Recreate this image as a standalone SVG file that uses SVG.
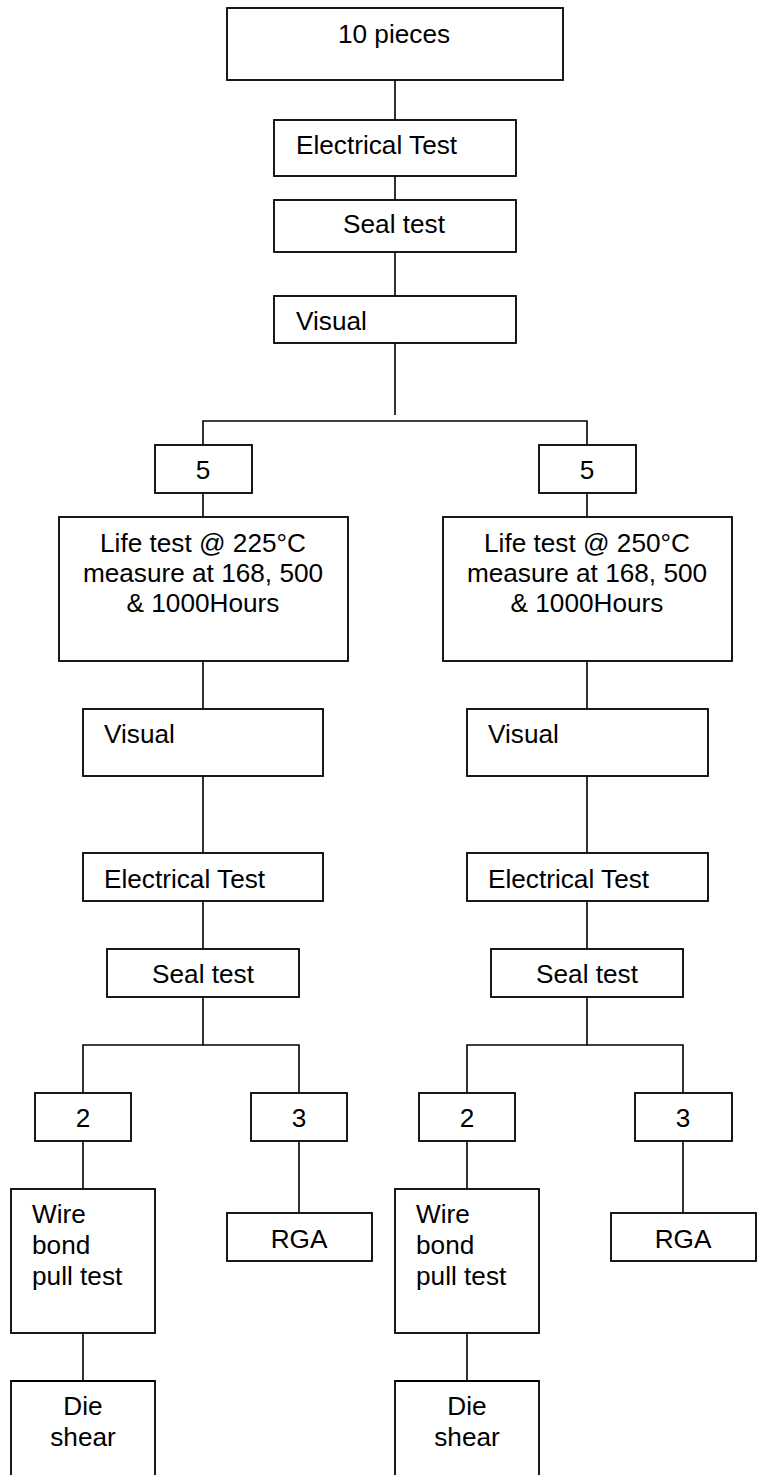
<svg xmlns="http://www.w3.org/2000/svg" width="762" height="1475" viewBox="0 0 762 1475">
<style>
.b{fill:#fff;stroke:#000;stroke-width:1.8}
.o{fill:none;stroke:#000;stroke-width:1.8}
.c{fill:none;stroke:#000;stroke-width:1.6}
text{font-family:"Liberation Sans",Arial,sans-serif;font-size:26.2px;fill:#000}
.m{text-anchor:middle}
</style>
<rect width="762" height="1475" fill="#fff"/>
<g id="connectors">
<path class="c" d="M395 80V120M395 176V200M395 252V296M395 343V415"/>
<path class="c" d="M203 445V421H587V445M203 493V517M587 493V517"/>
<path class="c" d="M203 661V709M203 776V853M203 901V949M203 997V1045M83 1093V1045H299V1093M83 1141V1189M83 1333V1381M299 1141V1213"/>
<path class="c" d="M587 661V709M587 776V853M587 901V949M587 997V1045M467 1093V1045H683V1093M467 1141V1189M467 1333V1381M683 1141V1213"/>
</g>
<g id="n-top"><rect class="b" x="227" y="8" width="336" height="72"/><text class="m" x="394" y="43">10 pieces</text></g>
<g id="n-elec0"><rect class="b" x="274" y="120" width="242" height="56"/><text x="296" y="154">Electrical Test</text></g>
<g id="n-seal0"><rect class="b" x="274" y="200" width="242" height="52"/><text class="m" x="394" y="233">Seal test</text></g>
<g id="n-vis0"><rect class="b" x="274" y="296" width="242" height="47"/><text x="296" y="330">Visual</text></g>

<g id="n-5L"><rect class="b" x="155" y="445" width="97" height="48"/><text class="m" x="203" y="479">5</text></g>
<g id="n-5R"><rect class="b" x="539" y="445" width="97" height="48"/><text class="m" x="587" y="479">5</text></g>
<g id="n-lifeL"><rect class="b" x="59" y="517" width="289" height="144"/><text class="m" x="203" y="552">Life test @ 225°C</text><text class="m" x="203" y="582">measure at 168, 500</text><text class="m" x="203" y="612">&amp; 1000Hours</text></g>
<g id="n-lifeR"><rect class="b" x="443" y="517" width="289" height="144"/><text class="m" x="587" y="552">Life test @ 250°C</text><text class="m" x="587" y="582">measure at 168, 500</text><text class="m" x="587" y="612">&amp; 1000Hours</text></g>

<g id="n-visL"><rect class="b" x="83" y="709" width="240" height="67"/><text x="104" y="743">Visual</text></g>
<g id="n-visR"><rect class="b" x="467" y="709" width="241" height="67"/><text x="488" y="743">Visual</text></g>
<g id="n-elecL"><rect class="b" x="83" y="853" width="240" height="48"/><text x="104" y="888">Electrical Test</text></g>
<g id="n-elecR"><rect class="b" x="467" y="853" width="241" height="48"/><text x="488" y="888">Electrical Test</text></g>
<g id="n-sealL"><rect class="b" x="107" y="949" width="192" height="48"/><text class="m" x="203" y="983">Seal test</text></g>
<g id="n-sealR"><rect class="b" x="491" y="949" width="192" height="48"/><text class="m" x="587" y="983">Seal test</text></g>

<g id="n-2L"><rect class="b" x="35" y="1093" width="96" height="48"/><text class="m" x="83" y="1127">2</text></g>
<g id="n-3L"><rect class="b" x="251" y="1093" width="96" height="48"/><text class="m" x="299" y="1127">3</text></g>
<g id="n-2R"><rect class="b" x="419" y="1093" width="96" height="48"/><text class="m" x="467" y="1127">2</text></g>
<g id="n-3R"><rect class="b" x="635" y="1093" width="97" height="48"/><text class="m" x="683" y="1127">3</text></g>

<g id="n-wireL"><rect class="b" x="11" y="1189" width="144" height="144"/><text x="32" y="1223">Wire</text><text x="32" y="1254">bond</text><text x="32" y="1285">pull test</text></g>
<g id="n-wireR"><rect class="b" x="395" y="1189" width="144" height="144"/><text x="416" y="1223">Wire</text><text x="416" y="1254">bond</text><text x="416" y="1285">pull test</text></g>
<g id="n-rgaL"><rect class="b" x="227" y="1213" width="145" height="48"/><text class="m" x="299" y="1248">RGA</text></g>
<g id="n-rgaR"><rect class="b" x="611" y="1213" width="145" height="48"/><text class="m" x="683" y="1248">RGA</text></g>

<g id="n-dieL"><path class="o" d="M11 1476V1381H155V1476"/><text class="m" x="83" y="1415">Die</text><text class="m" x="83" y="1446">shear</text></g>
<g id="n-dieR"><path class="o" d="M395 1476V1381H539V1476"/><text class="m" x="467" y="1415">Die</text><text class="m" x="467" y="1446">shear</text></g>
</svg>
